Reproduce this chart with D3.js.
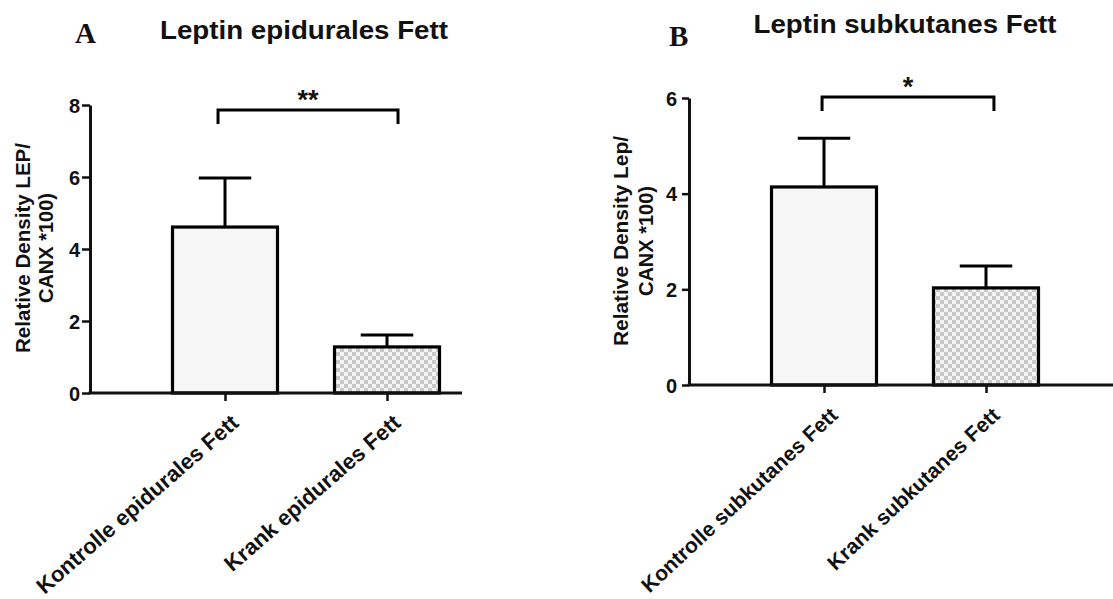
<!DOCTYPE html>
<html>
<head>
<meta charset="utf-8">
<script src="https://cdn.jsdelivr.net/npm/d3@7"></script>
<style>
  body { margin: 0; background: #fff; }
  text { font-family: "Liberation Sans", Arial, sans-serif; font-weight: bold; fill: #111; }
  .panel-letter { font-family: "Liberation Serif", "Times New Roman", serif; }
</style>
</head>
<body>
<svg id="chart" width="1113" height="599"></svg>
<script>
const groupsA = ["Kontrolle epidurales Fett", "Krank epidurales Fett"]
const meansA = [4.61, 1.28]
const errorsA = [1.36, 0.33]
const ticksA = [0, 2, 4, 6, 8]

const groupsB = ["Kontrolle subkutanes Fett", "Krank subkutanes Fett"]
const meansB = [4.14, 2.03]
const errorsB = [1.02, 0.46]
const ticksB = [0, 2, 4, 6]

const svg = d3.select("#chart")

const defs = svg.append("defs")
const pat = defs
  .append("pattern")
  .attr("id", "checker")
  .attr("width", 8)
  .attr("height", 8)
  .attr("patternUnits", "userSpaceOnUse")
pat.append("rect").attr("width", 8).attr("height", 8).attr("fill", "#f4f4f4")
pat.append("rect").attr("width", 4).attr("height", 4).attr("fill", "#c8c8c8")
pat.append("rect").attr("x", 4).attr("y", 4).attr("width", 4).attr("height", 4).attr("fill", "#c8c8c8")

function drawPanel(cfg) {
  const g = svg.append("g")
  const y = d3.scaleLinear().domain([0, cfg.ticks[cfg.ticks.length - 1]]).range([cfg.y0, cfg.y1])
  const x = d3.scalePoint().domain(cfg.groups).range(cfg.centers)
  const data = cfg.groups.map((name, i) => ({ name, mean: cfg.means[i], err: cfg.errors[i], i }))

  // y axis
  const yAxis = g
    .append("g")
    .attr("transform", `translate(${cfg.axisX},0)`)
    .call(d3.axisLeft(y).tickValues(cfg.ticks).tickSize(cfg.tickLen).tickSizeOuter(0).tickFormat(d3.format("d")))
  yAxis.attr("font-size", null).attr("font-family", null)
  yAxis.select(".domain").attr("stroke", "#111").attr("stroke-width", 3)
  yAxis.selectAll(".tick line").attr("stroke", "#111").attr("stroke-width", 2.5)
  yAxis.selectAll(".tick text")
    .attr("x", -cfg.tickLabelGap)
    .attr("dy", "0.36em")
    .style("font-size", "20px")

  // bars
  g.selectAll(".bar")
    .data(data)
    .join("rect")
    .attr("class", "bar")
    .attr("x", (d) => x(d.name) - cfg.barWidth / 2)
    .attr("y", (d) => y(d.mean))
    .attr("width", cfg.barWidth)
    .attr("height", (d) => y(0) - y(d.mean))
    .attr("fill", (d) => (d.i == 0 ? "#f6f6f6" : "url(#checker)"))
    .attr("stroke", "#000")
    .attr("stroke-width", 3.2)

  // error bars
  g.selectAll(".err")
    .data(data)
    .join("line")
    .attr("x1", (d) => x(d.name))
    .attr("x2", (d) => x(d.name))
    .attr("y1", (d) => y(d.mean))
    .attr("y2", (d) => y(d.mean + d.err))
    .attr("stroke", "#000")
    .attr("stroke-width", 3)
  g.selectAll(".cap")
    .data(data)
    .join("line")
    .attr("x1", (d) => x(d.name) - cfg.barWidth / 4)
    .attr("x2", (d) => x(d.name) + cfg.barWidth / 4)
    .attr("y1", (d) => y(d.mean + d.err))
    .attr("y2", (d) => y(d.mean + d.err))
    .attr("stroke", "#000")
    .attr("stroke-width", 3)

  // x axis
  const xAxis = g
    .append("g")
    .attr("transform", `translate(0,${cfg.y0})`)
    .call(d3.axisBottom(x).tickSize(8).tickSizeOuter(0).tickFormat(""))
  xAxis.select(".domain").attr("d", `M${cfg.axisX - 1.5},0H${cfg.axisEnd}`).attr("stroke", "#111").attr("stroke-width", 3)
  xAxis.selectAll(".tick line").attr("stroke", "#111").attr("stroke-width", 2.5)

  g.selectAll(".xlab")
    .data(data)
    .join("text")
    .attr("text-anchor", "end")
    .attr("font-size", cfg.xLabelSize)
    .attr("transform", (d) => `translate(${x(d.name) + 15},${cfg.y0 + 32}) rotate(${-cfg.xLabelAngle})`)
    .text((d) => d.name)

  // significance bracket
  const by = y(cfg.bracket)
  const [bx1, bx2] = cfg.bracketX.map((v) => x(cfg.groups[0]) + v * (x(cfg.groups[1]) - x(cfg.groups[0])))
  g.append("path")
    .attr("d", `M${bx1},${by + 14}V${by}H${bx2}V${by + 14}`)
    .attr("fill", "none")
    .attr("stroke", "#000")
    .attr("stroke-width", 3)
  g.append("text")
    .attr("x", (bx1 + bx2) / 2)
    .attr("y", by - 1)
    .attr("text-anchor", "middle")
    .attr("font-size", 27)
    .attr("font-weight", "normal")
    .text(cfg.stars)

  // y label
  const ly = g.append("text")
    .attr("text-anchor", "middle")
    .attr("font-size", 20)
    .attr("transform", `translate(${cfg.labelX},${cfg.labelY}) rotate(-90)`)
  ly.append("tspan").attr("x", 0).attr("y", 0).attr("textLength", 210).attr("lengthAdjust", "spacingAndGlyphs").text(cfg.yLabel[0])
  ly.append("tspan").attr("x", 0).attr("y", cfg.labelGap).text(cfg.yLabel[1])

  // title & letter
  g.append("text")
    .attr("x", cfg.titleX)
    .attr("y", cfg.titleY)
    .attr("text-anchor", "middle")
    .attr("font-size", 26)
    .attr("textLength", cfg.titleLen)
    .attr("lengthAdjust", "spacingAndGlyphs")
    .text(cfg.title)
  g.append("text")
    .attr("class", "panel-letter")
    .attr("font-size", 29)
    .attr("x", cfg.letterX)
    .attr("y", cfg.letterY)
    .text(cfg.letter)
}

drawPanel({
  groups: groupsA, means: meansA, errors: errorsA, ticks: ticksA,
  y0: 393, y1: 105, axisX: 90, axisEnd: 462, centers: [225, 387], barWidth: 105,
  tickLen: 8, tickLabelGap: 10, xLabelSize: 22, xLabelAngle: 41,
  bracket: 7.86, bracketX: [-0.043, 1.068], stars: "**",
  yLabel: ["Relative Density LEP/", "CANX *100)"], labelX: 30, labelY: 248, labelGap: 23,
  title: "Leptin epidurales Fett", titleX: 304, titleY: 39, titleLen: 288,
  letter: "A", letterX: 75, letterY: 43,
})

drawPanel({
  groups: groupsB, means: meansB, errors: errorsB, ticks: ticksB,
  y0: 385, y1: 98, axisX: 689, axisEnd: 1113, centers: [824, 986], barWidth: 105,
  tickLen: 7, tickLabelGap: 12, xLabelSize: 21, xLabelAngle: 43,
  bracket: 6.02, bracketX: [-0.012, 1.049], stars: "*",
  yLabel: ["Relative Density Lep/", "CANX *100)"], labelX: 628, labelY: 241, labelGap: 25,
  title: "Leptin subkutanes Fett", titleX: 905, titleY: 33, titleLen: 303,
  letter: "B", letterX: 669, letterY: 46,
})
</script>
</body>
</html>
